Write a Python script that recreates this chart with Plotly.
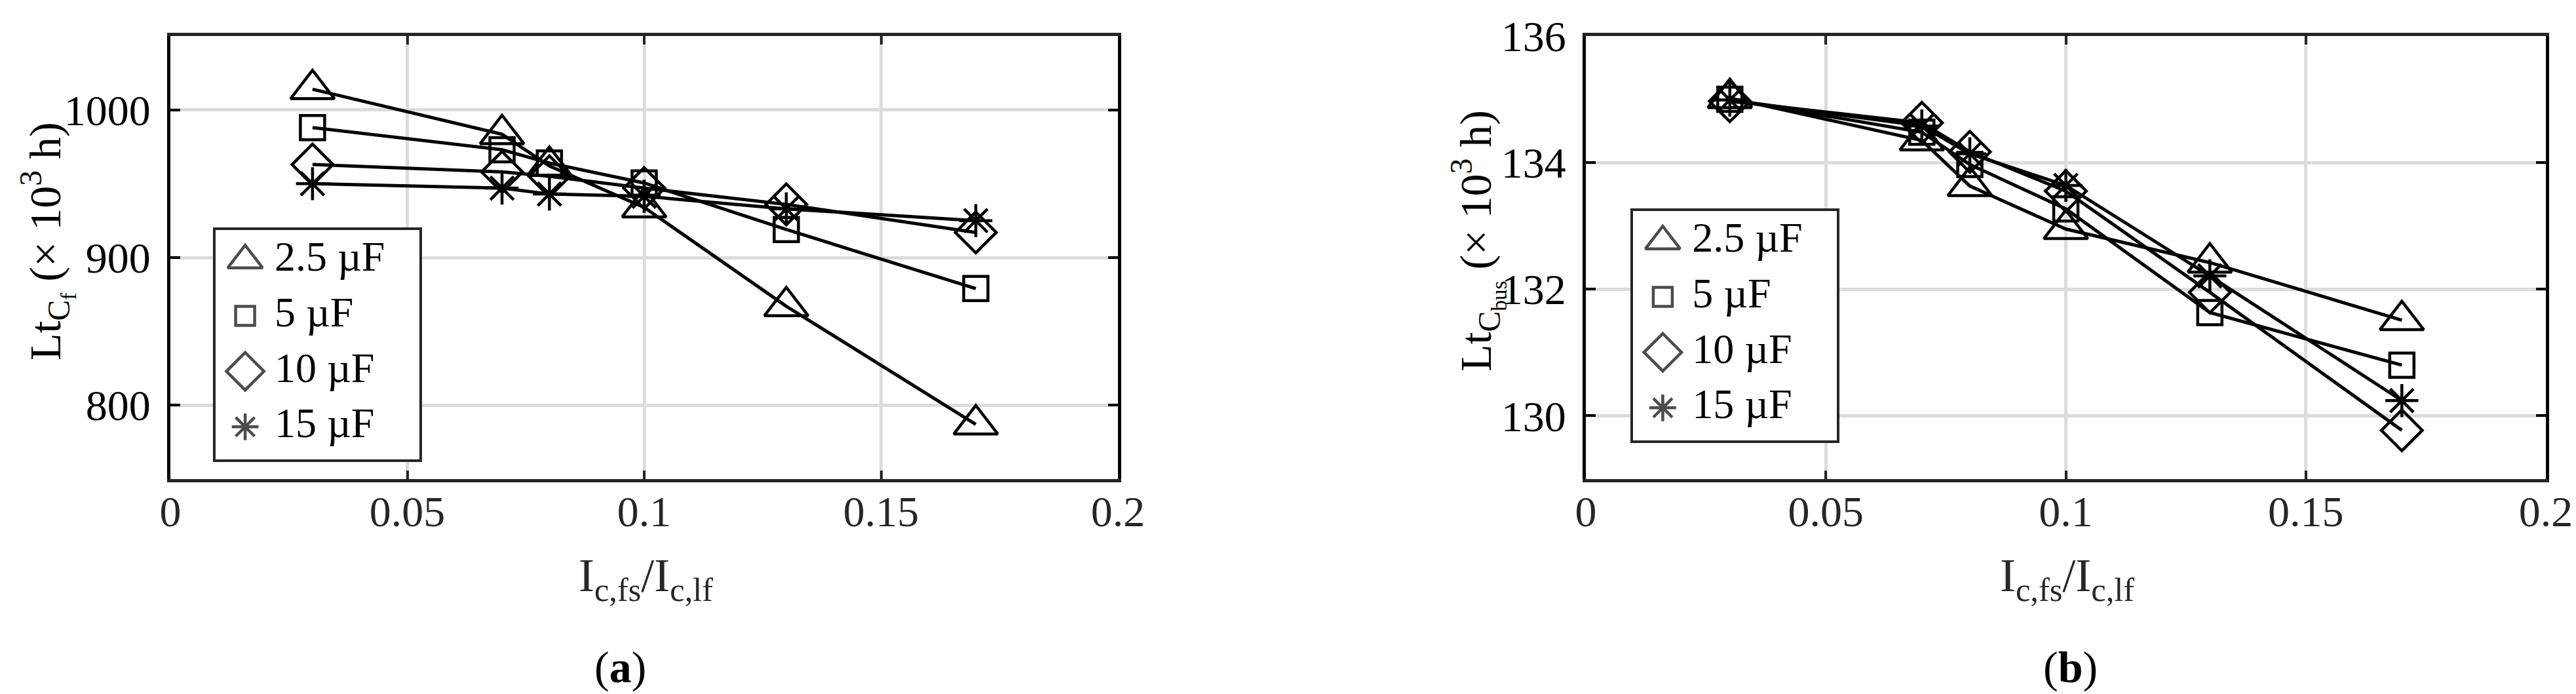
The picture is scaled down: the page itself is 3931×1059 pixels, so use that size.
"""Vida útil de condensadores frente a Ic,fs/Ic,lf, paneles (a) y (b)."""
import plotly.graph_objects as go

W, H = 3931, 1059

# eje x común
ratio = [0.03, 0.07, 0.08, 0.10, 0.13, 0.17]
caps = ["2.5 µF", "5 µF", "10 µF", "15 µF"]

# (a) Lt_Cf  (x 10^3 h)
lt_cf_2p5 = [1014, 983.5, 962, 934, 867, 787]
lt_cf_5 = [988, 973, 964, 950.5, 919, 879]
lt_cf_10 = [963, 958, 955, 947, 936, 917]
lt_cf_15 = [950, 947, 943, 941.5, 933, 925]

# (b) Lt_Cbus  (x 10^3 h)
lt_cbus_2p5 = [135.02, 134.35, 133.63, 132.95, 132.42, 131.51]
lt_cbus_5 = [135.0, 134.48, 133.97, 133.27, 131.63, 130.80]
lt_cbus_10 = [134.97, 134.63, 134.17, 133.55, 131.95, 129.77]
lt_cbus_15 = [134.99, 134.58, 134.14, 133.64, 132.21, 130.24]

FONT = "Liberation Serif, Times New Roman, serif"
INK = "#000000"
DARK = "#262626"
GRID = "#dcdcdc"

SYMBOLS = ["triangle-up-open", "square-open", "diamond-open", "asterisk-open"]
SIZES = [58, 37, 48, 42]
LEG_SIZES = [46, 29, 44, 34]


def _xaxis(domain, anchor):
    return dict(
        domain=domain, anchor=anchor, range=[0, 0.2], dtick=0.05, tick0=0,
        showline=True, mirror="ticks", linecolor=DARK, linewidth=5,
        ticks="inside", ticklen=13, tickwidth=4, tickcolor=DARK,
        showgrid=True, gridcolor=GRID, gridwidth=5, zeroline=False,
        tickfont=dict(family=FONT, size=66, color=DARK), ticklabelstandoff=-12,
    )


def _yaxis(domain, anchor, rng, dtick):
    return dict(
        domain=domain, anchor=anchor, range=rng, dtick=dtick, tick0=0,
        showline=True, mirror="ticks", linecolor=INK, linewidth=5,
        ticks="inside", ticklen=15, tickwidth=4, tickcolor=INK,
        showgrid=True, gridcolor=GRID, gridwidth=5, zeroline=False,
        tickfont=dict(family=FONT, size=66, color=INK), ticklabelstandoff=12,
    )


def _legend_axes(xdom, ydom, xa, ya):
    base = dict(range=[0, 1], showline=True, mirror=True, linecolor=DARK,
                linewidth=4, ticks="", showticklabels=False, showgrid=False,
                zeroline=False, fixedrange=True)
    return dict(base, domain=xdom, anchor=ya), dict(base, domain=ydom, anchor=xa)


fig = go.Figure()

panels = [
    ("x", "y", [lt_cf_2p5, lt_cf_5, lt_cf_10, lt_cf_15]),
    ("x2", "y2", [lt_cbus_2p5, lt_cbus_5, lt_cbus_10, lt_cbus_15]),
]
for xa, ya, series in panels:
    for vals, sym, size in zip(series, SYMBOLS, SIZES):
        fig.add_trace(go.Scatter(
            x=ratio, y=vals, mode="lines+markers", xaxis=xa, yaxis=ya,
            line=dict(color=INK, width=5),
            marker=dict(symbol=sym, size=size, color=INK,
                        line=dict(color=INK, width=4.5)),
            cliponaxis=False, showlegend=False,
        ))

# leyendas dibujadas a mano (marcadores grandes, sin línea)
rows = [0.868 - 0.242 * i for i in range(len(caps))]
for xa, ya in [("x3", "y3"), ("x4", "y4")]:
    fig.add_trace(go.Scatter(
        x=[0.146] * len(caps), y=rows, mode="markers", xaxis=xa, yaxis=ya,
        marker=dict(symbol=SYMBOLS, size=LEG_SIZES, color=INK,
                    line=dict(color=INK, width=4.5)),
        showlegend=False, hoverinfo="skip",
    ))
    fig.add_trace(go.Scatter(
        x=[0.29] * len(caps), y=rows, mode="text", text=caps,
        textposition="middle right", xaxis=xa, yaxis=ya,
        textfont=dict(family=FONT, size=64, color=INK),
        showlegend=False, hoverinfo="skip",
    ))

y_dom = [1 - 723 / H, 1 - 47 / H]
lx3, ly3 = _legend_axes([320.7 / W, 631.7 / W], [1 - 693 / H, 1 - 343 / H], "x3", "y3")
lx4, ly4 = _legend_axes([2484 / W, 2795 / W], [1 - 664 / H, 1 - 314 / H], "x4", "y4")

fig.update_layout(
    width=W, height=H, autosize=False,
    margin=dict(l=0, r=0, t=0, b=0, pad=0, autoexpand=False),
    paper_bgcolor="white", plot_bgcolor="white",
    font=dict(family=FONT, color=INK),
    xaxis=_xaxis([252 / W, 1698 / W], "y"),
    yaxis=_yaxis(y_dom, "x", [750, 1050], 100),
    xaxis2=_xaxis([2412 / W, 3877 / W], "y2"),
    yaxis2=_yaxis(y_dom, "x2", [129, 136.0001], 2),
    xaxis3=lx3, yaxis3=ly3, xaxis4=lx4, yaxis4=ly4,
    showlegend=False,
)


def _note(text, x, y, size, angle=0, yanchor="middle", color=INK):
    fig.add_annotation(
        text=text, x=x / W, y=1 - y / H, xref="paper", yref="paper",
        showarrow=False, textangle=angle, xanchor="center", yanchor=yanchor,
        font=dict(family=FONT, size=size, color=color),
    )


_note("Lt<sub>C<sub>f</sub></sub> (× 10<sup>3</sup> h)", 64, 360, 68, angle=-90)
_note("Lt<sub>C<sub>bus</sub></sub> (× 10<sup>3</sup> h)", 2247, 360, 68, angle=-90)
_note("I<sub>c,fs</sub>/I<sub>c,lf</sub>", 977, 828, 72, yanchor="top", color=DARK)
_note("I<sub>c,fs</sub>/I<sub>c,lf</sub>", 3146, 828, 72, yanchor="top", color=DARK)
_note("(<b>a</b>)", 938, 1010, 68)
_note("(<b>b</b>)", 3151, 1010, 68)

fig.write_html("out.html")
